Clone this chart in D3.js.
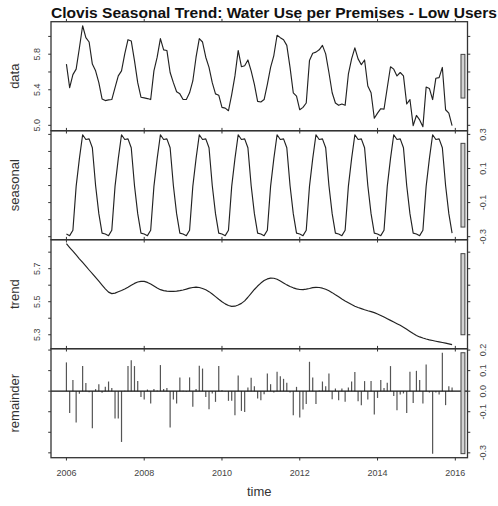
<!DOCTYPE html>
<html>
<head>
<meta charset="utf-8">
<script src="https://cdn.jsdelivr.net/npm/d3@7"></script>
<style>
  html, body { margin: 0; padding: 0; background: #fff; }
  svg { display: block; font-family: "Liberation Sans", Arial, Helvetica, sans-serif; }
</style>
</head>
<body>
<svg id="chart" width="498" height="506"></svg>
<script>
// Monthly series, January 2006 onwards
const startYear = 2006;
const frequency = 12;

const dataValues = [
  5.689, 5.423, 5.570, 5.632, 5.870, 6.120, 5.986, 5.937, 5.689, 5.613, 5.480, 5.297,
  5.278, 5.286, 5.290, 5.423, 5.556, 5.613, 5.804, 5.963, 5.949, 5.728, 5.480, 5.316,
  5.309, 5.301, 5.290, 5.613, 5.766, 5.975, 5.849, 5.842, 5.594, 5.480, 5.377, 5.354,
  5.290, 5.290, 5.366, 5.499, 5.766, 5.975, 5.937, 5.766, 5.651, 5.480, 5.354, 5.339,
  5.202, 5.194, 5.164, 5.346, 5.556, 5.842, 5.659, 5.670, 5.735, 5.613, 5.461, 5.270,
  5.263, 5.290, 5.461, 5.651, 5.785, 6.013, 5.986, 5.963, 5.899, 5.651, 5.366, 5.328,
  5.175, 5.202, 5.251, 5.728, 5.811, 5.823, 5.849, 5.899, 5.804, 5.594, 5.366, 5.251,
  5.225, 5.240, 5.225, 5.575, 5.747, 5.872, 5.747, 5.682, 5.735, 5.442, 5.366, 5.080,
  5.137, 5.187, 5.183, 5.423, 5.659, 5.632, 5.556, 5.594, 5.556, 5.240, 5.290, 4.997,
  5.111, 5.061, 4.985, 5.431, 5.415, 5.290, 5.530, 5.537, 5.651, 5.175, 5.137, 4.997
];

const seasonalValues = [
  -0.284, -0.294, -0.262, -0.005, 0.158, 0.298, 0.270, 0.274, 0.222, 0.000, -0.165, -0.279,
  -0.284, -0.294, -0.262, -0.005, 0.158, 0.298, 0.270, 0.274, 0.222, 0.000, -0.165, -0.279,
  -0.284, -0.294, -0.262, -0.005, 0.158, 0.298, 0.270, 0.274, 0.222, 0.000, -0.165, -0.279,
  -0.284, -0.294, -0.262, -0.005, 0.158, 0.298, 0.270, 0.274, 0.222, 0.000, -0.165, -0.279,
  -0.284, -0.294, -0.262, -0.005, 0.158, 0.298, 0.270, 0.274, 0.222, 0.000, -0.165, -0.279,
  -0.284, -0.294, -0.262, -0.005, 0.158, 0.298, 0.270, 0.274, 0.222, 0.000, -0.165, -0.279,
  -0.284, -0.294, -0.262, -0.005, 0.158, 0.298, 0.270, 0.274, 0.222, 0.000, -0.165, -0.279,
  -0.284, -0.294, -0.262, -0.005, 0.158, 0.298, 0.270, 0.274, 0.222, 0.000, -0.165, -0.279,
  -0.284, -0.294, -0.262, -0.005, 0.158, 0.298, 0.270, 0.274, 0.222, 0.000, -0.165, -0.279,
  -0.284, -0.294, -0.262, -0.005, 0.158, 0.298, 0.270, 0.274, 0.222, 0.000, -0.165, -0.279
];

const trendValues = [
  5.851, 5.828, 5.806, 5.783, 5.760, 5.738, 5.715, 5.692, 5.670, 5.647, 5.624, 5.601,
  5.578, 5.558, 5.549, 5.552, 5.560, 5.568, 5.577, 5.588, 5.600, 5.611, 5.619, 5.623,
  5.623, 5.617, 5.607, 5.595, 5.583, 5.573, 5.567, 5.564, 5.563, 5.563, 5.564, 5.567,
  5.571, 5.576, 5.582, 5.586, 5.588, 5.586, 5.580, 5.572, 5.561, 5.547, 5.531, 5.515,
  5.500, 5.487, 5.477, 5.472, 5.473, 5.480, 5.490, 5.505, 5.527, 5.551, 5.574, 5.595,
  5.613, 5.628, 5.638, 5.643, 5.642, 5.636, 5.626, 5.614, 5.602, 5.592, 5.584, 5.578,
  5.574, 5.573, 5.576, 5.580, 5.585, 5.587, 5.586, 5.582, 5.575, 5.566, 5.555, 5.542,
  5.530, 5.517, 5.505, 5.494, 5.483, 5.473, 5.465, 5.458, 5.451, 5.445, 5.440, 5.434,
  5.426, 5.417, 5.407, 5.397, 5.387, 5.377, 5.367, 5.357, 5.346, 5.333, 5.320, 5.307,
  5.296, 5.287, 5.280, 5.274, 5.269, 5.265, 5.261, 5.257, 5.253, 5.249, 5.245, 5.240
];

const remainderValues = [
  0.140, -0.106, 0.054, -0.153, -0.013, 0.122, 0.040, -0.005, -0.180, 0.010, 0.034, -0.008,
  0.021, 0.047, 0.015, -0.133, -0.133, -0.247, 0.002, 0.122, 0.151, 0.122, 0.049, -0.028,
  -0.040, 0.008, -0.060, 0.010, 0.003, 0.127, 0.011, 0.016, -0.177, -0.040, -0.060, 0.067,
  0.002, -0.003, 0.067, -0.076, 0.011, 0.124, 0.110, -0.028, -0.088, -0.011, -0.052, 0.122,
  0.004, -0.002, -0.047, -0.047, -0.117, 0.076, -0.096, -0.101, 0.018, 0.065, 0.024, -0.036,
  -0.044, -0.015, 0.086, 0.034, -0.007, 0.094, 0.073, 0.060, 0.041, -0.006, -0.117, 0.021,
  -0.128, -0.089, -0.063, 0.143, 0.067, -0.063, 0.003, 0.047, 0.024, 0.086, -0.039, 0.013,
  -0.044, 0.013, -0.052, 0.018, 0.047, 0.093, -0.049, -0.068, 0.049, -0.041, 0.049, -0.114,
  -0.033, 0.054, 0.016, 0.041, 0.122, -0.024, -0.093, -0.016, -0.011, -0.106, 0.094, -0.057,
  0.099, 0.054, -0.060, 0.130, -0.007, -0.304, -0.006, -0.016, 0.187, -0.068, 0.024, 0.018
];

const panelNames = ["data", "seasonal", "trend", "remainder"];
const yTickValues = [
  [5.0, 5.2, 5.4, 5.6, 5.8, 6.0],
  [-0.3, -0.2, -0.1, 0.0, 0.1, 0.2, 0.3],
  [5.3, 5.4, 5.5, 5.6, 5.7, 5.8],
  [-0.3, -0.2, -0.1, 0.0, 0.1, 0.2]
];
const yTickLabels = [
  ["5.0", "5.4", "5.8"],
  ["-0.3", "-0.1", "0.1", "0.3"],
  ["5.3", "5.5", "5.7"],
  ["-0.3", "-0.1", "0.0", "0.1", "0.2"]
];
const xTickValues = [2006, 2008, 2010, 2012, 2014, 2016];
const titleText = "Clovis Seasonal Trend: Water Use per Premises - Low Users";
const xAxisTitle = "time";

// ---- layout ----
const plotLeft = 51, plotRight = 467.5, plotTop = 21.7, plotBottom = 457.7;
const panelHeight = (plotBottom - plotTop) / panelNames.length;
const tickLen = 2.8;
const ink = "#222";

const series = [dataValues, seasonalValues, trendValues, remainderValues];
const times = dataValues.map((_, i) => startYear + i / frequency);

// R-style 4% axis extension
function padded(ext) {
  const r = ext[1] - ext[0];
  return [ext[0] - 0.04 * r, ext[1] + 0.04 * r];
}

const x = d3.scaleLinear().domain(padded(d3.extent(times))).range([plotLeft, plotRight]);

const svg = d3.select("#chart");

// range bars share the smallest component range
const minRange = d3.min(series, s => { const e = d3.extent(s); return e[1] - e[0]; });
const dx = (plotRight - plotLeft) / 64;

series.forEach((vals, p) => {
  const top = plotTop + p * panelHeight;
  const bottom = top + panelHeight;
  const ext = d3.extent(vals);
  const y = d3.scaleLinear().domain(padded(ext)).range([bottom, top]);
  const g = svg.append("g");
  const pts = vals.map((v, i) => [times[i], v]);

  if (p < series.length - 1) {
    g.append("path")
      .attr("d", d3.line().x(d => x(d[0])).y(d => y(d[1]))(pts))
      .attr("fill", "none")
      .attr("stroke", ink)
      .attr("stroke-width", 1.15)
      .attr("stroke-linejoin", "round");
  } else {
    g.selectAll("line.bar").data(pts).join("line")
      .attr("class", "bar")
      .attr("x1", d => x(d[0])).attr("x2", d => x(d[0]))
      .attr("y1", y(0)).attr("y2", d => y(d[1]))
      .attr("stroke", "#555")
      .attr("stroke-width", 1.2);
    g.append("line")
      .attr("x1", plotLeft).attr("x2", plotRight)
      .attr("y1", y(0)).attr("y2", y(0))
      .attr("stroke", "#111").attr("stroke-width", 1.2);
  }

  // range bar
  const mid = (ext[0] + ext[1]) / 2;
  g.append("rect")
    .attr("x", plotRight - dx)
    .attr("width", 0.6 * dx)
    .attr("y", y(mid + minRange / 2))
    .attr("height", y(mid - minRange / 2) - y(mid + minRange / 2))
    .attr("fill", "#d3d3d3")
    .attr("stroke", "#444")
    .attr("stroke-width", 1);

  // box
  g.append("rect")
    .attr("x", plotLeft).attr("y", top)
    .attr("width", plotRight - plotLeft).attr("height", panelHeight)
    .attr("fill", "none").attr("stroke", "#333").attr("stroke-width", 1.3);

  // y ticks on both sides
  const yt = yTickValues[p].filter(v => v >= y.domain()[0] && v <= y.domain()[1]);
  g.selectAll("line.ytl").data(yt).join("line")
    .attr("x1", plotLeft).attr("x2", plotLeft - tickLen)
    .attr("y1", d => y(d)).attr("y2", d => y(d))
    .attr("stroke", "#333").attr("stroke-width", 1);
  g.selectAll("line.ytr").data(yt).join("line")
    .attr("x1", plotRight).attr("x2", plotRight + tickLen)
    .attr("y1", d => y(d)).attr("y2", d => y(d))
    .attr("stroke", "#333").attr("stroke-width", 1);

  // tick labels alternate sides
  const onRight = p % 2 === 1;
  const lx = onRight ? plotRight + 15 : plotLeft - 14;
  g.selectAll("text.ylab").data(yTickLabels[p]).join("text")
    .attr("transform", d => `translate(${lx},${y(+d)}) rotate(-90)`)
    .attr("text-anchor", "middle")
    .attr("dominant-baseline", "central")
    .attr("font-size", 9)
    .attr("fill", "#444")
    .text(d => d);

  // x ticks above and below each panel
  xTickValues.forEach(t => {
    g.append("line")
      .attr("x1", x(t)).attr("x2", x(t))
      .attr("y1", bottom).attr("y2", bottom + tickLen)
      .attr("stroke", "#333").attr("stroke-width", 1);
    g.append("line")
      .attr("x1", x(t)).attr("x2", x(t))
      .attr("y1", top).attr("y2", top - tickLen)
      .attr("stroke", "#333").attr("stroke-width", 1);
  });

  // component name
  g.append("text")
    .attr("transform", `translate(14,${(top + bottom) / 2}) rotate(-90)`)
    .attr("text-anchor", "middle")
    .attr("dominant-baseline", "central")
    .attr("font-size", 13)
    .attr("fill", "#333")
    .text(panelNames[p]);
});

// bottom time axis labels
svg.append("g").selectAll("text").data(xTickValues).join("text")
  .attr("x", d => x(d))
  .attr("y", plotBottom + 18.5)
  .attr("text-anchor", "middle")
  .attr("font-size", 9)
  .attr("fill", "#444")
  .text(d => d);

svg.append("text")
  .attr("x", (plotLeft + plotRight) / 2)
  .attr("y", plotBottom + 38.5)
  .attr("text-anchor", "middle")
  .attr("font-size", 13)
  .attr("fill", "#333")
  .text(xAxisTitle);

svg.append("text")
  .attr("x", plotLeft)
  .attr("y", 18.3)
  .attr("font-size", 15.5)
  .attr("font-weight", "bold")
  .attr("fill", "#111")
  .attr("textLength", 446)
  .attr("lengthAdjust", "spacingAndGlyphs")
  .text(titleText);
</script>
</body>
</html>
